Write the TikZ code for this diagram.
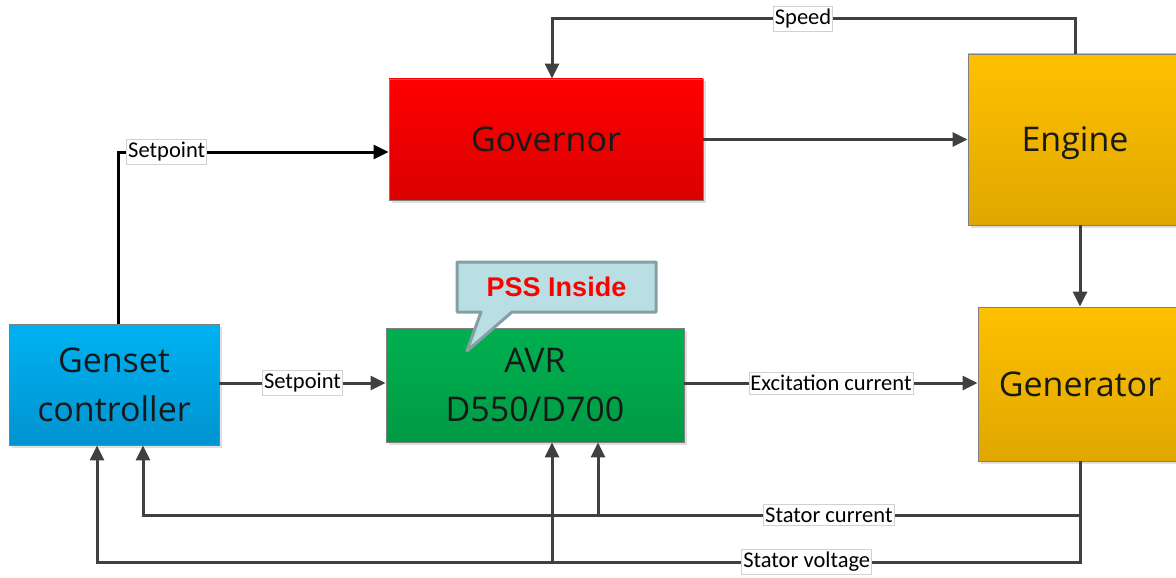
\documentclass[tikz,border=0pt]{standalone}
\usepackage{fontspec}
\setmainfont{Open Sans}
\newfontfamily\lblfont{Carlito}
\newfontfamily\pssfont{Liberation Sans}
\usetikzlibrary{arrows.meta,calc,shadows}
\definecolor{boxborder}{HTML}{7F7F7F}
\definecolor{linegray}{HTML}{404040}
\definecolor{redtop}{HTML}{FF0000}
\definecolor{redbot}{HTML}{DA0000}
\definecolor{orgtop}{HTML}{FFC000}
\definecolor{orgbot}{HTML}{DFA800}
\definecolor{blutop}{HTML}{00B2F2}
\definecolor{blubot}{HTML}{0093CF}
\definecolor{grntop}{HTML}{00B050}
\definecolor{grnbot}{HTML}{009A44}
\definecolor{callfill}{HTML}{B9DEE4}
\definecolor{calldraw}{HTML}{859FA4}
\tikzset{
  blk/.style={draw=boxborder, line width=0.8pt, align=center, inner sep=0pt,
    font=\fontsize{34}{49}\selectfont, text=black!90,
    drop shadow={shadow xshift=2.5pt, shadow yshift=-2.5pt, opacity=0.25}},
  conn/.style={draw=linegray, line width=3pt, -{Triangle[length=15pt,width=14pt]}},
  connk/.style={draw=black, line width=3pt, -{Triangle[length=15pt,width=14pt]}},
  lbl/.style={fill=white, draw=black!18, line width=0.6pt, font=\lblfont\fontsize{22.5}{25}\selectfont,
    inner xsep=1.5pt, inner ysep=3pt, text=black}
}
\begin{document}
\begin{tikzpicture}[x=1pt,y=-1pt]
\useasboundingbox (0,0) rectangle (1176,578);
\begin{scope}
\clip (0,0) rectangle (1176,578);
\node[blk, minimum width=314pt, minimum height=121pt, top color=redtop, bottom color=redbot] (gov) at (546,139.5) {Governor};
\node[blk, minimum width=214pt, minimum height=171pt, top color=orgtop, bottom color=orgbot, text depth=0pt] (eng) at (1075,139.5) {Engine};
\node[blk, minimum width=210pt, minimum height=121pt, top color=blutop, bottom color=blubot] (gsc) at (114,384.5) {Genset\\controller};
\node[blk, minimum width=298pt, minimum height=114pt, top color=grntop, bottom color=grnbot] (avr) at (535,385) {AVR\\D550/D700};
\node[blk, minimum width=204pt, minimum height=154pt, top color=orgtop, bottom color=orgbot] (gen) at (1080,384) {Generator};
\end{scope}

% callout
\draw[fill=callfill, draw=calldraw, line width=3pt, line join=round]
  (457,262) -- (656,262) -- (656,312) -- (512,312) -- (467,351) -- (481,312) -- (457,312) -- cycle;
\node[font=\pssfont\bfseries\fontsize{27}{30}\selectfont, text={rgb,255:red,255;green,0;blue,0}] (pss) at (556.5,287) {PSS Inside};

% Speed
\coordinate (spdtop) at (1075,19);
\draw[conn] (eng.north) -- (spdtop) -| node[lbl, pos=0.26] {Speed} ($(gov.north)+(6,0)$);
% Governor -> Engine
\draw[conn] (gov.east) -- (eng.west |- gov.east);
% Engine -> Generator
\draw[conn] (gen.north |- eng.south) -- (gen.north);
% Setpoint to governor
\draw[connk] ($(gsc.north)+(4,0)$) |- node[lbl, pos=0.59] {Setpoint} ($(gov.west)+(0,12.5)$);
% Setpoint to AVR
\draw[conn] ($(gsc.east)+(0,-1.5)$) -- node[lbl] {Setpoint} ($(avr.west)+(0,-2)$);
% Excitation current
\draw[conn] ($(avr.east)+(0,-2)$) -- node[lbl] {Excitation current} ($(gen.west)+(0,-1)$);
% Stator current
\coordinate (scl) at (143,515);
\coordinate (sca) at (598,515);
\draw[conn] (gen.south) |- node[lbl, pos=0.634] {Stator current} (scl) -- (scl |- gsc.south);
\draw[conn] (sca) -- (sca |- avr.south);
% Stator voltage
\coordinate (svl) at (97,562);
\coordinate (sva) at (552,562);
\draw[conn] (gen.south) |- node[lbl, pos=0.639] {Stator voltage} (svl) -- (svl |- gsc.south);
\draw[conn] (sva) -- (sva |- avr.south);
\end{tikzpicture}
\end{document}
